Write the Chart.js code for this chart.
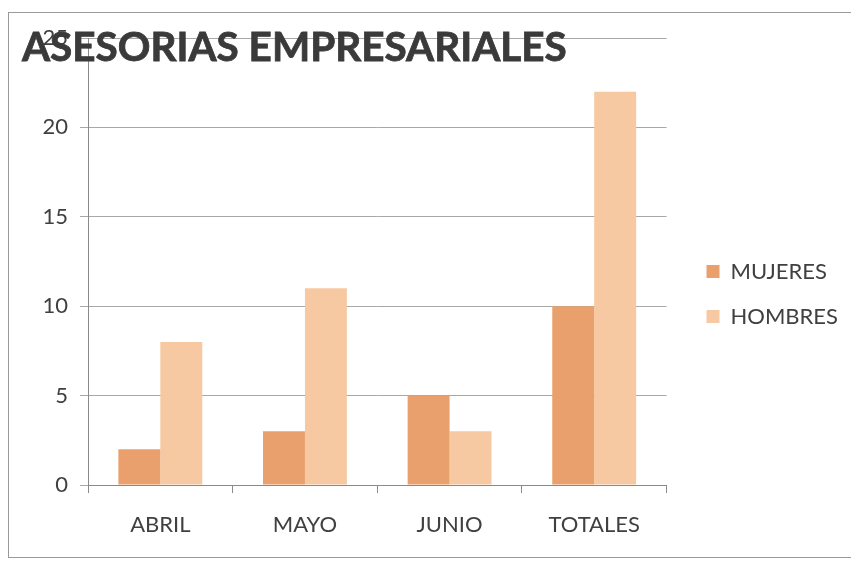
<!DOCTYPE html>
<html>
<head>
<meta charset="utf-8">
<script src="https://cdn.jsdelivr.net/npm/chart.js@4"></script>
<style>
  html, body { margin: 0; padding: 0; background: #fff; }
  #wrap { width: 851px; height: 564px; position: relative; }
</style>
</head>
<body>
<div id="wrap"><canvas id="chart" width="851" height="564"></canvas></div>
<script>
// data
const categories = ['ABRIL', 'MAYO', 'JUNIO', 'TOTALES'];
const mujeres    = [2, 3, 5, 10];
const hombres    = [8, 11, 3, 22];
const yTicks     = [0, 5, 10, 15, 20, 25];

const TITLE = 'ASESORIAS EMPRESARIALES';
const FONT  = 'Lato, "Open Sans", sans-serif';
const INK   = '#404040';

// frame around the whole chart + big title overlapping the plot
const decor = {
  id: 'decor',
  afterLayout(chart) {
    // push the legend a bit further from the plot, like the original
    const lg = chart.legend;
    lg.left += 17; lg.right += 17;
    lg.top -= 2; lg.bottom -= 2;
  },
  beforeDraw(chart) {
    const ctx = chart.ctx;
    ctx.save();
    ctx.strokeStyle = '#9a9a9a';
    ctx.lineWidth = 1;
    ctx.strokeRect(8.5, 12.5, 900, 545);
    ctx.restore();
  },
  afterDraw(chart) {
    const ctx = chart.ctx;
    ctx.save();
    let size = 40;
    ctx.font = 'bold ' + size + 'px ' + FONT;
    const w = ctx.measureText(TITLE).width;
    size = size * 545 / w;
    ctx.font = 'bold ' + size + 'px ' + FONT;
    ctx.fillStyle = '#3a3a3a';
    ctx.lineWidth = 0.8;
    ctx.strokeStyle = '#3a3a3a';
    ctx.textBaseline = 'alphabetic';
    ctx.fillText(TITLE, 22, 61);
    ctx.strokeText(TITLE, 22, 61);
    ctx.restore();
  }
};

new Chart(document.getElementById('chart'), {
  type: 'bar',
  data: {
    labels: categories,
    datasets: [
      { label: 'MUJERES', data: mujeres, backgroundColor: '#E9A06C' },
      { label: 'HOMBRES', data: hombres, backgroundColor: '#F7C9A2' },
    ],
  },
  options: {
    responsive: false,
    animation: false,
    layout: { padding: { left: 28, top: 38, right: 20, bottom: 10 } },
    datasets: { bar: { categoryPercentage: 0.58, barPercentage: 1.0 } },
    plugins: {
      title: { display: false },
      tooltip: { enabled: false },
      legend: {
        position: 'right',
        labels: {
          color: INK,
          font: { size: 22, family: FONT },
          boxWidth: 13, boxHeight: 13, padding: 23,
        },
      },
    },
    scales: {
      x: {
        offset: true,
        grid: { display: true, drawOnChartArea: false, drawTicks: true, tickLength: 8, offset: true, color: '#8a8a8a' },
        border: { color: '#8a8a8a' },
        ticks: { color: INK, font: { size: 22, family: FONT }, padding: 19 },
        afterFit(scale) { scale.height = 69; },
      },
      y: {
        min: 0, max: 25,
        afterBuildTicks(scale) { scale.ticks = yTicks.map(v => ({ value: v })); },
        grid: { color: '#a8a8a8', tickLength: 8 },
        border: { color: '#8a8a8a' },
        ticks: { color: INK, font: { size: 22, family: FONT }, padding: 12 },
        afterFit(scale) { scale.width = 60; },
      },
    },
  },
  plugins: [decor],
});
</script>
</body>
</html>
